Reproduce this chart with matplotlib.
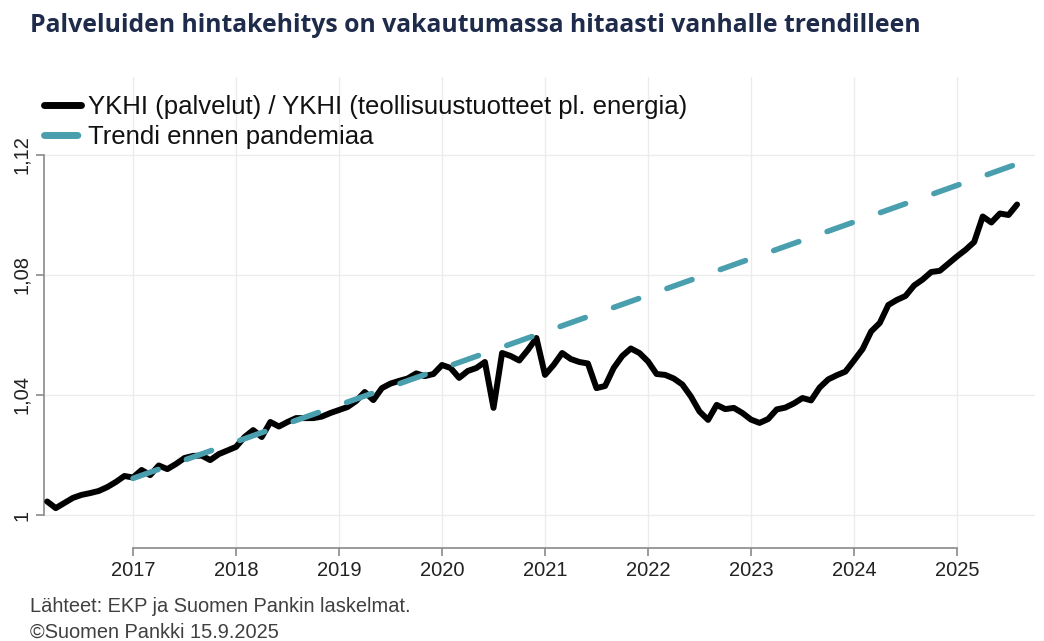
import numpy as np
import pandas as pd
import matplotlib
matplotlib.use("Agg")
import matplotlib.pyplot as plt
from matplotlib.ticker import FixedLocator, FuncFormatter

# ---------------- data ----------------
title = "Palveluiden hintakehitys on vakautumassa hitaasti vanhalle trendilleen"
series_label = "YKHI (palvelut) / YKHI (teollisuustuotteet pl. energia)"
trend_label = "Trendi ennen pandemiaa"
source_lines = ["Lähteet: EKP ja Suomen Pankin laskelmat.", "©Suomen Pankki 15.9.2025"]

ratio_start = "2016-03"
ratio_values = [
    1.0045, 1.0023, 1.0040, 1.0057, 1.0067, 1.0073, 1.0080, 1.0093, 1.0110, 1.0130,   # 2016 Mar-Dec
    1.0125, 1.0150, 1.0133, 1.0165, 1.0153, 1.0170, 1.0190, 1.0197, 1.0198, 1.0183, 1.0203, 1.0215,  # 2017
    1.0227, 1.0260, 1.0283, 1.0260, 1.0310, 1.0295, 1.0310, 1.0323, 1.0323, 1.0323, 1.0328, 1.0340,  # 2018
    1.0350, 1.0360, 1.0380, 1.0410, 1.0383, 1.0423, 1.0438, 1.0447, 1.0455, 1.0472, 1.0463, 1.0470,  # 2019
    1.0500, 1.0490, 1.0457, 1.0480, 1.0490, 1.0510, 1.0357, 1.0540, 1.0530, 1.0515, 1.0550, 1.0590,  # 2020
    1.0467, 1.0500, 1.0540, 1.0520, 1.0510, 1.0505, 1.0423, 1.0430, 1.0490, 1.0530, 1.0555, 1.0540,  # 2021
    1.0512, 1.0470, 1.0467, 1.0455, 1.0435, 1.0395, 1.0345, 1.0317, 1.0367, 1.0353, 1.0357, 1.0340,  # 2022
    1.0318, 1.0307, 1.0320, 1.0352, 1.0358, 1.0372, 1.0390, 1.0382, 1.0425, 1.0452, 1.0466, 1.0478,  # 2023
    1.0515, 1.0553, 1.0612, 1.0640, 1.0700, 1.0717, 1.0730, 1.0765, 1.0785, 1.0810, 1.0814, 1.0838,  # 2024
    1.0862, 1.0884, 1.0910, 1.0995, 1.0975, 1.1005, 1.1000, 1.1035,                                  # 2025 Jan-Aug
]
trend_dates = ["2017-01", "2025-08"]
trend_values = [1.0122, 1.1170]

xtick_years = [2017, 2018, 2019, 2020, 2021, 2022, 2023, 2024, 2025]
ytick_values = [1.00, 1.04, 1.08, 1.12]

# ---------------- helpers ----------------
def to_decimal_year(idx):
    idx = pd.DatetimeIndex(idx)
    return idx.year + (idx.month - 1) / 12.0

ratio_x = to_decimal_year(pd.date_range(ratio_start, periods=len(ratio_values), freq="MS"))
trend_x = to_decimal_year(pd.to_datetime(trend_dates))

# ---------------- figure ----------------
W, H = 1044, 641
fig = plt.figure(figsize=(W / 100, H / 100), dpi=100)
fig.patch.set_facecolor("white")

ax = fig.add_axes([44 / W, 1 - 548 / H, (1035 - 44) / W, (548 - 77) / H])

TEAL = "#4a9fae"
ax.plot(ratio_x, ratio_values, color="black", lw=4.3, solid_joinstyle="round",
        solid_capstyle="round", label=series_label, zorder=3)
ax.plot(trend_x, trend_values, color=TEAL, lw=4.0, dashes=(4.8, 5.4),
        dash_capstyle="round", label=trend_label, zorder=4)

# limits chosen so that Jan 2017 sits at x=133 px and 1 at y=515 px
x0 = 2017 - (133 - 44) / 103.0
x1 = 2017 + (1035 - 133) / 103.0
ax.set_xlim(x0, x1)
ax.set_ylim(1 - 33 / 3000, 1 + 438 / 3000)

ax.xaxis.set_major_locator(FixedLocator(xtick_years))
ax.yaxis.set_major_locator(FixedLocator(ytick_values))
ax.xaxis.set_major_formatter(FuncFormatter(lambda v, p: f"{int(round(v))}"))

def yfmt(v, p):
    if abs(v - 1) < 1e-9:
        return "1"
    return f"{v:.2f}".replace(".", ",")
ax.yaxis.set_major_formatter(FuncFormatter(yfmt))

ax.grid(True, color="#ececec", lw=1.0, zorder=0)
ax.set_axisbelow(True)

for s in ["top", "right"]:
    ax.spines[s].set_visible(False)
ax.spines["left"].set_bounds(1.0, 1.12)
ax.spines["bottom"].set_bounds(2017, 2025)
for s in ["left", "bottom"]:
    ax.spines[s].set_color("#8a8a8a")
    ax.spines[s].set_linewidth(1.2)

ax.tick_params(axis="both", colors="#8a8a8a", length=6, width=1.2, labelcolor="#222222")
ax.tick_params(axis="x", pad=3)
ax.tick_params(axis="y", pad=3)
for lab in ax.get_xticklabels():
    lab.set_fontfamily("Liberation Sans")
    lab.set_fontsize(14.5)
for lab in ax.get_yticklabels():
    lab.set_fontfamily("Liberation Sans")
    lab.set_fontsize(14.5)
    lab.set_rotation(90)
    lab.set_va("center")

leg = ax.legend(loc="upper left", bbox_to_anchor=(44 / W, 1 - 95 / H), bbox_transform=fig.transFigure,
                frameon=False, prop={"family": "Liberation Sans", "size": 18.5},
                handlelength=1.45, handletextpad=0.25, labelspacing=0.25, borderaxespad=0, borderpad=0)
for t in leg.get_texts():
    t.set_color("#111111")
for h in leg.get_lines():
    h.set_linewidth(5.0)

fig.text(30 / W, 1 - 25 / H, title, family="Open Sans", weight="bold", size=17.8,
         color="#1f2b4a", va="center", ha="left")
fig.text(30 / W, 1 - 606 / H, source_lines[0], family="Liberation Sans", size=14.4,
         color="#404040", va="center", ha="left")
fig.text(30 / W, 1 - 632 / H, source_lines[1], family="Liberation Sans", size=14.4,
         color="#404040", va="center", ha="left")

fig.savefig("out.png", dpi=100, facecolor="white")
